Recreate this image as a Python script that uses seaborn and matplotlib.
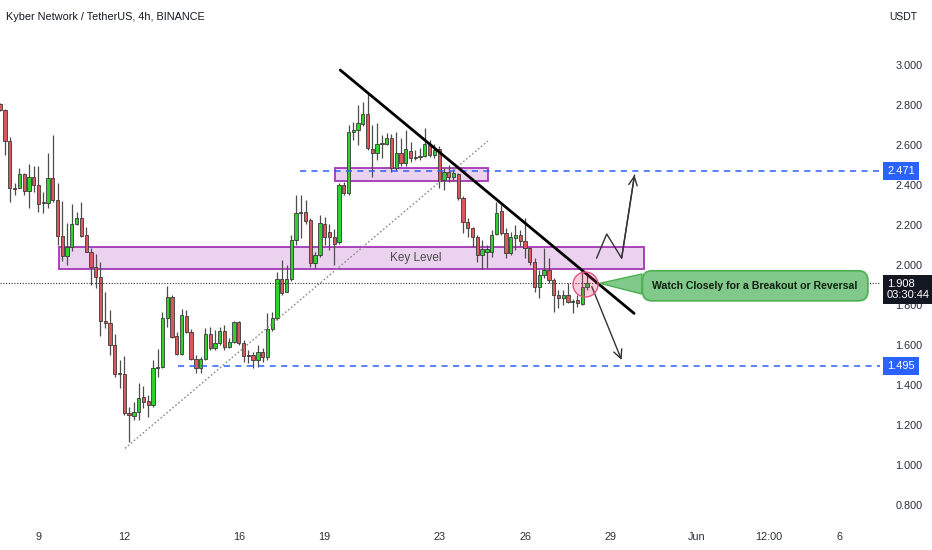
import numpy as np
import pandas as pd
import matplotlib
matplotlib.use("Agg")
import matplotlib.pyplot as plt
import matplotlib.dates as mdates
import matplotlib.transforms as mtransforms
from matplotlib.patches import Rectangle
import seaborn as sns

# 4h candles, KNC / USDT
start_time = "2024-05-07 16:00"
opens = [2.805, 2.775, 2.621, 2.385, 2.385, 2.455, 2.371, 2.441, 2.40, 2.315,
         2.31, 2.434, 2.325, 2.146, 2.046, 2.088, 2.203, 2.233, 2.15, 2.066,
         1.991, 1.941, 1.721, 1.711, 1.60, 1.46, 1.455, 1.26, 1.246, 1.263,
         1.338, 1.32, 1.30, 1.486, 1.488, 1.733, 1.838, 1.646, 1.555, 1.745,
         1.666, 1.53, 1.483, 1.53, 1.655, 1.583, 1.608, 1.671, 1.591, 1.616,
         1.716, 1.611, 1.55, 1.55, 1.525, 1.566, 1.538, 1.678, 1.733, 1.928,
         1.866, 1.928, 2.125, 2.261, 2.266, 2.225, 2.008, 2.05, 2.203, 2.166,
         2.141, 2.116, 2.40, 2.358, 2.664, 2.675, 2.703, 2.754, 2.58, 2.558,
         2.603, 2.605, 2.636, 2.486, 2.558, 2.508, 2.571, 2.54, 2.538, 2.546,
         2.60, 2.55, 2.578, 2.425, 2.466, 2.441, 2.455, 2.333, 2.216, 2.183,
         2.138, 2.05, 2.066, 2.066, 2.153, 2.27, 2.158, 2.058, 2.135, 2.15,
         2.12, 2.083, 2.016, 1.891, 1.95, 1.975, 1.925, 1.85, 1.833, 1.85,
         1.816, 1.825, 1.806, 1.888]
highs = [2.81, 2.78, 2.642, 2.41, 2.486, 2.461, 2.505, 2.495, 2.495, 2.366,
         2.561, 2.65, 2.41, 2.32, 2.209, 2.303, 2.263, 2.313, 2.188, 2.083,
         2.055, 2.016, 1.866, 1.775, 1.655, 1.525, 1.545, 1.291, 1.316, 1.408,
         1.395, 1.35, 1.525, 1.578, 1.766, 1.895, 1.85, 1.666, 1.778, 1.775,
         1.68, 1.55, 1.542, 1.683, 1.691, 1.675, 1.688, 1.70, 1.635, 1.72,
         1.72, 1.625, 1.575, 1.565, 1.60, 1.585, 1.758, 1.765, 1.965, 2.025,
         2.0, 2.15, 2.35, 2.35, 2.325, 2.236, 2.066, 2.25, 2.24, 2.205,
         2.18, 2.41, 2.415, 2.70, 2.715, 2.80, 2.815, 2.855, 2.70, 2.708,
         2.65, 2.66, 2.655, 2.666, 2.635, 2.675, 2.615, 2.575, 2.585, 2.683,
         2.625, 2.605, 2.595, 2.485, 2.50, 2.48, 2.46, 2.345, 2.235, 2.191,
         2.15, 2.125, 2.10, 2.175, 2.316, 2.30, 2.185, 2.165, 2.20, 2.175,
         2.235, 2.09, 2.035, 1.975, 2.083, 2.033, 1.935, 1.875, 1.875, 1.908,
         1.83, 1.85, 1.975, 1.95]
lows = [2.77, 2.55, 2.315, 2.35, 2.385, 2.35, 2.286, 2.366, 2.267, 2.26,
        2.285, 2.316, 2.10, 2.018, 2.0, 2.071, 2.2, 2.141, 2.063, 1.90,
        1.886, 1.646, 1.685, 1.55, 1.441, 1.385, 1.25, 1.116, 1.225, 1.225,
        1.283, 1.241, 1.291, 1.441, 1.483, 1.691, 1.635, 1.55, 1.55, 1.66,
        1.525, 1.458, 1.458, 1.525, 1.575, 1.575, 1.60, 1.575, 1.585, 1.61,
        1.60, 1.515, 1.51, 1.485, 1.49, 1.515, 1.525, 1.67, 1.725, 1.85,
        1.865, 1.92, 2.10, 2.135, 2.205, 1.991, 1.986, 2.04, 2.10, 2.075,
        2.0, 2.105, 2.35, 2.35, 2.625, 2.60, 2.695, 2.575, 2.44, 2.525,
        2.535, 2.60, 2.465, 2.475, 2.495, 2.495, 2.515, 2.525, 2.525, 2.54,
        2.54, 2.535, 2.383, 2.375, 2.415, 2.42, 2.325, 2.16, 2.141, 2.091,
        2.016, 1.978, 1.985, 2.041, 2.15, 2.15, 2.035, 2.05, 2.075, 2.095,
        2.035, 2.0, 1.866, 1.833, 1.935, 1.91, 1.766, 1.785, 1.80, 1.81,
        1.758, 1.79, 1.80, 1.875]
closes = [2.775, 2.621, 2.385, 2.382, 2.455, 2.371, 2.441, 2.40, 2.303, 2.31,
          2.436, 2.325, 2.146, 2.046, 2.088, 2.203, 2.233, 2.146, 2.066, 1.991,
          1.941, 1.721, 1.711, 1.60, 1.455, 1.455, 1.258, 1.25, 1.266, 1.336,
          1.316, 1.30, 1.486, 1.488, 1.733, 1.838, 1.641, 1.555, 1.75, 1.666,
          1.53, 1.483, 1.53, 1.655, 1.583, 1.611, 1.671, 1.591, 1.616, 1.716,
          1.608, 1.545, 1.545, 1.525, 1.566, 1.538, 1.678, 1.733, 1.928, 1.861,
          1.928, 2.125, 2.261, 2.26, 2.221, 2.008, 2.05, 2.208, 2.141, 2.141,
          2.103, 2.40, 2.358, 2.664, 2.675, 2.709, 2.754, 2.583, 2.558, 2.603,
          2.608, 2.633, 2.486, 2.558, 2.508, 2.58, 2.536, 2.536, 2.546, 2.603,
          2.55, 2.575, 2.42, 2.463, 2.441, 2.46, 2.333, 2.216, 2.183, 2.138,
          2.05, 2.078, 2.078, 2.15, 2.261, 2.158, 2.058, 2.141, 2.15, 2.12,
          2.083, 2.016, 1.891, 1.95, 1.975, 1.925, 1.85, 1.833, 1.85, 1.816,
          1.816, 1.808, 1.888, 1.908]

# drawings on the chart
key_level = ("2024-05-09 17:30", "2024-05-30 03:50", 1.978, 2.092)
small_zone = ("2024-05-19 09:00", "2024-05-24 16:50", 2.42, 2.485)
down_trend = (["2024-05-19 13:00", "2024-05-29 19:30"], [2.975, 1.758])
up_trend = (["2024-05-12 00:30", "2024-05-24 16:50"], [1.083, 2.62])
resistance = ("2024-05-18 03:00", 2.471)
support = ("2024-05-13 21:00", 1.495)
last_price = 1.908
countdown = "03:30:44"
bull_path = (["2024-05-28 12:00", "2024-05-28 20:30", "2024-05-29 09:00", "2024-05-29 19:50"],
             [2.034, 2.155, 2.034, 2.45])
bear_path = (["2024-05-28 08:00", "2024-05-29 09:00"], [1.892, 1.525])
circle_point = ("2024-05-28 02:15", 1.905)
callout_tip = ("2024-05-28 14:50", 1.9085)
callout_text_pos = ("2024-06-03 01:00", 1.896)
callout_text = "Watch Closely for a Breakout or Reversal"
key_label_pos = ("2024-05-22 04:30", 2.035)
tick_dates = ["2024-05-09", "2024-05-12", "2024-05-16", "2024-05-19", "2024-05-23",
              "2024-05-26", "2024-05-29", "2024-06-01", "2024-06-03 12:00", "2024-06-06"]
tick_labels = ["9", "12", "16", "19", "23", "26", "29", "Jun", "12:00", "6"]
price_ticks = [0.8, 1.0, 1.2, 1.4, 1.6, 1.8, 2.0, 2.2, 2.4, 2.6, 2.8, 3.0]
x_range = ("2024-05-07 15:45", "2024-06-07 09:40")
y_range = (0.715, 3.325)

sns.set_theme(style="white")
plt.rcParams["font.family"] = ["Liberation Sans", "DejaVu Sans"]
txt_color = "#131722"


def tnum(t):
    return mdates.date2num(pd.Timestamp(t))


df = pd.DataFrame({"time": pd.date_range(start_time, periods=len(opens), freq="4h"),
                   "open": opens, "high": highs, "low": lows, "close": closes})
df["x"] = mdates.date2num(df["time"])
up = df["close"] >= df["open"]

fig = plt.figure(figsize=(9.32, 5.5), dpi=100)
ax = fig.add_axes([0, 28 / 550, 880 / 932, 522 / 550])

# zones
for t0, t1, lo, hi in [key_level, small_zone]:
    ax.add_patch(Rectangle((tnum(t0), lo), tnum(t1) - tnum(t0), hi - lo,
                           facecolor=(0.61, 0.15, 0.69, 0.2), edgecolor=(0.61, 0.15, 0.69, 0.85),
                           linewidth=1.4, zorder=1))
ax.text(tnum(key_label_pos[0]), key_label_pos[1], "Key Level", ha="center", va="center",
        fontsize=8.5, color="#4a4a4a", zorder=5)

# candles
ax.vlines(df["x"], df["low"], df["high"], color="#4d4d4d", linewidth=0.9, zorder=2)
body_h = np.maximum((df["close"] - df["open"]).abs(), 0.004)
ax.bar(df["x"], body_h, bottom=np.minimum(df["open"], df["close"]), width=0.115,
       color=np.where(up, "#2ed12e", "#d9595b"), edgecolor="#3a3a3a", linewidth=0.6, zorder=3)

# horizontal levels
for t0, lvl in [resistance, support]:
    ax.hlines(lvl, tnum(t0), tnum(x_range[1]), colors="#2962ff", linewidth=1.1,
              linestyles=(0, (4, 3.5)), zorder=4)
ax.axhline(last_price, color="#333333", linewidth=0.8, linestyle=(0, (1, 1.5)), zorder=4)

# trend lines
sns.lineplot(x=[tnum(t) for t in up_trend[0]], y=up_trend[1], ax=ax, color="#8a8a8a",
             linewidth=1.0, linestyle=(0, (1.2, 1.6)), zorder=4, sort=False)
sns.lineplot(x=[tnum(t) for t in down_trend[0]], y=down_trend[1], ax=ax, color="black",
             linewidth=2.0, zorder=6, sort=False)

# scenario arrows
bx = [tnum(t) for t in bull_path[0]]
sns.lineplot(x=bx, y=bull_path[1], ax=ax, color="#333333", linewidth=1.0, zorder=6, sort=False)
arrow_kw = dict(arrowstyle="->,head_length=0.45,head_width=0.22", color="#333333",
                lw=1.0, shrinkA=0, shrinkB=0, mutation_scale=14)
ax.annotate("", xy=(bx[-1], bull_path[1][-1]), xytext=(bx[-2], bull_path[1][-2]),
            arrowprops=arrow_kw, zorder=6)
ax.annotate("", xy=(tnum(bear_path[0][1]), bear_path[1][1]),
            xytext=(tnum(bear_path[0][0]), bear_path[1][0]), arrowprops=arrow_kw, zorder=6)

# highlight circle
ax.plot(tnum(circle_point[0]), circle_point[1], marker="o", markersize=18,
        markerfacecolor=(0.91, 0.12, 0.39, 0.22), markeredgecolor="#e5507f",
        markeredgewidth=1.0, zorder=7)

# callout
ax.annotate(callout_text, xy=(tnum(callout_tip[0]), callout_tip[1]),
            xytext=(tnum(callout_text_pos[0]), callout_text_pos[1]),
            ha="center", va="center", fontsize=7.6, fontweight="bold", color="#10200f",
            bbox=dict(boxstyle="round,pad=0.95,rounding_size=0.9", fc="#80c98a", ec="#4caf50", lw=1.2),
            arrowprops=dict(arrowstyle="wedge,tail_width=1.9,shrink_factor=0.5", fc="#80c98a",
                            ec="#4caf50", lw=1.0, shrinkA=0, shrinkB=0),
            zorder=8)

# axes
ax.set_xlim(tnum(x_range[0]), tnum(x_range[1]))
ax.set_ylim(*y_range)
ax.set_xticks([tnum(t) for t in tick_dates])
ax.set_xticklabels(tick_labels)
ax.yaxis.tick_right()
ax.set_yticks(price_ticks)
ax.set_yticklabels([f"{p:.3f}" for p in price_ticks])
ax.tick_params(axis="y", length=0, pad=11, labelsize=7.8, labelcolor="#2a2e39")
ax.tick_params(axis="x", length=0, pad=7, labelsize=7.8, labelcolor="#2a2e39")
for s in ax.spines.values():
    s.set_visible(False)
ax.grid(False)
ax.set_xlabel("")
ax.set_ylabel("")

# price labels on the scale
trans = mtransforms.blended_transform_factory(ax.transAxes, ax.transData)
for _, lvl in [resistance, support]:
    ax.text(1.008, lvl, f"{lvl:.3f}", transform=trans, ha="left", va="center", fontsize=8,
            color="white", bbox=dict(boxstyle="square,pad=0.35", fc="#2962ff", ec="none"),
            clip_on=False, zorder=10)
ax.annotate(f"{last_price:.3f}\n{countdown}", xy=(1.0, last_price), xycoords=trans,
            xytext=(5, -4.5), textcoords="offset points", ha="left", va="center", fontsize=8,
            linespacing=1.15, color="white",
            bbox=dict(boxstyle="square,pad=0.35", fc="#131722", ec="none"),
            annotation_clip=False, zorder=10)

fig.text(6 / 932, 1 - 17 / 550, "Kyber Network / TetherUS, 4h, BINANCE", ha="left", va="center",
         fontsize=7.8, color=txt_color)
fig.text(889 / 932, 1 - 17 / 550, "USDT", ha="left", va="center", fontsize=7.5, color=txt_color)

fig.savefig("out.png", dpi=100, facecolor="white")
